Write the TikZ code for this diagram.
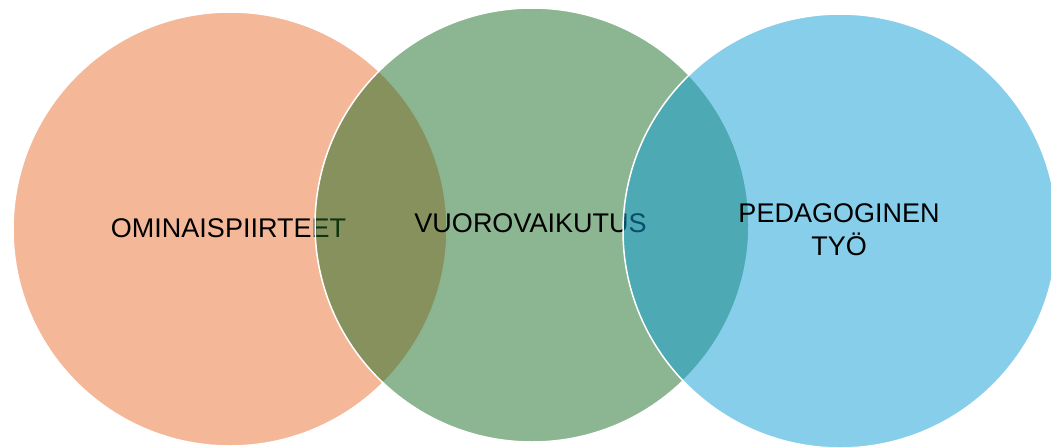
\documentclass[tikz,border=0pt]{standalone}
\usepackage{fontspec}
\setmainfont{Liberation Sans}
\definecolor{corange}{HTML}{E97132}
\definecolor{cgreen}{HTML}{196B24}
\definecolor{cblue}{HTML}{0F9ED5}
\begin{document}
\begin{tikzpicture}[x=1pt,y=-1pt,
  venn/.style={circle, draw=white, line width=1.5pt, fill opacity=0.5, draw opacity=1, inner sep=0pt, outer sep=0pt, minimum size=434pt},
  lbl/.style={font=\fontsize{27}{33}\selectfont, text=black, align=center, inner sep=0pt}]
\useasboundingbox (0,0) rectangle (1051,447);
\clip (0,0) rectangle (1051,447);
\node[venn, fill=corange] (c1) at (230,229) {};
\node[lbl] (t1) at (228.5,228) {OMINAISPIIRTEET};
\node[venn, fill=cgreen] (c2) at (532,225) {};
\node[lbl] (t2) at (530.5,223) {VUOROVAIKUTUS};
\node[venn, fill=cblue] (c3) at (840,231) {};
\node[lbl] (t3) at (839,230) {PEDAGOGINEN\\TYÖ};
\end{tikzpicture}
\end{document}
